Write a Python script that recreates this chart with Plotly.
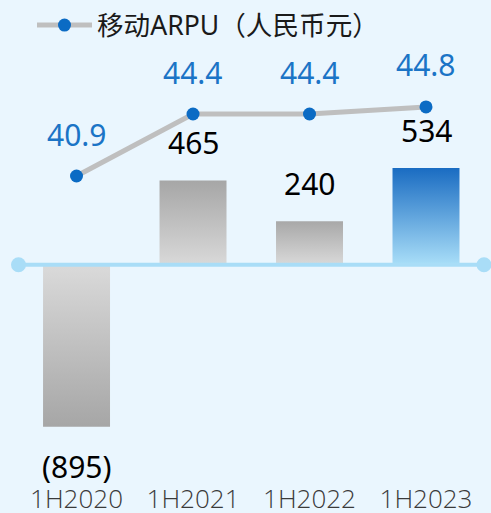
import plotly.graph_objects as go

categories = ["1H2020", "1H2021", "1H2022", "1H2023"]
bar_values = [-895, 465, 240, 534]
arpu_values = [40.9, 44.4, 44.4, 44.8]
legend_name = "移动ARPU（人民币元）"

# gradient colour pairs (bottom -> top) per bar
bar_gradients = [
    ["#A6A6A6", "#DADADA"],
    ["#D9D9D9", "#A6A6A6"],
    ["#D9D9D9", "#A8A8A8"],
    ["#A9DEF8", "#1A6CC2"],
]

W, H = 491, 513
BOTTOM = 32
plot_h = H - BOTTOM
zero_px = 264.7
s = 162.0 / 895
y_range = [-(plot_h - zero_px) / s, zero_px / s]
s2 = 62.0 / 3.5
y2_range = [44.4 - (plot_h - 114) / s2, 44.4 + 114 / s2]
bar_w = 0.575

FONT = "Noto Sans, Noto Sans CJK SC, sans-serif"

fig = go.Figure()

for i, (cat, v) in enumerate(zip(categories, bar_values)):
    xs = [i - bar_w / 2, i + bar_w / 2, i + bar_w / 2, i - bar_w / 2, i - bar_w / 2]
    ys = [0, 0, v, v, 0]
    c_lo, c_hi = bar_gradients[i]
    fig.add_trace(go.Scatter(
        x=xs, y=ys, mode="lines", fill="toself",
        line=dict(width=0, color="rgba(0,0,0,0)"),
        fillgradient=dict(type="vertical", colorscale=[[0, c_lo], [1, c_hi]]),
        showlegend=False, hoverinfo="skip", name=cat,
    ))

fig.add_trace(go.Scatter(
    x=list(range(len(categories))), y=arpu_values, yaxis="y2",
    mode="lines+markers", name=legend_name,
    line=dict(color="#BFBFBF", width=5),
    marker=dict(color="#0B6BC4", size=13),
))

annotations = []
for i, v in enumerate(arpu_values):
    annotations.append(dict(
        x=i, y=v, xref="x", yref="y2", text=f"{v:.1f}", showarrow=False,
        yshift=42, font=dict(family=FONT, size=30, color="#1B74C6"),
    ))
for i, v in enumerate(bar_values):
    txt = f"({abs(v)})" if v < 0 else f"{v}"
    annotations.append(dict(
        x=i, y=v, xref="x", yref="y", text=txt, showarrow=False,
        yshift=38 if v >= 0 else -40, font=dict(family=FONT, size=30, color="#000000"),
    ))

line_col = "#A9DDF7"
shapes = [
    dict(type="line", xref="paper", yref="y", x0=18 / W, x1=484 / W, y0=0, y1=0,
         line=dict(color=line_col, width=4), layer="above"),
]
for px in (18.5, 484):
    shapes.append(dict(type="circle", xref="paper", yref="y", xsizemode="pixel", ysizemode="pixel",
                       xanchor=px / W, yanchor=0, x0=-7.5, x1=7.5, y0=-7.5, y1=7.5,
                       fillcolor=line_col, line=dict(width=0), layer="above"))

fig.update_layout(
    width=W, height=H,
    margin=dict(l=0, r=0, t=0, b=BOTTOM),
    paper_bgcolor="#EAF6FE", plot_bgcolor="#EAF6FE",
    showlegend=True,
    legend=dict(x=32 / W, y=1 - 27 / H, xanchor="left", yanchor="middle", itemwidth=55,
                bgcolor="rgba(0,0,0,0)", font=dict(family=FONT, size=26.6, color="#1A1A1A")),
    xaxis=dict(range=[-0.657, 3.558], tickmode="array", tickvals=list(range(len(categories))),
               ticktext=categories, showgrid=False, zeroline=False, showline=False, ticks="",
               automargin=False,
               tickfont=dict(family="Open Sans, Noto Sans, sans-serif", size=26, weight=300,
                             color="#3A3A3A")),
    yaxis=dict(range=y_range, visible=False, showgrid=False, zeroline=False, automargin=False),
    yaxis2=dict(range=y2_range, overlaying="y", visible=False, showgrid=False, zeroline=False,
                automargin=False),
    annotations=annotations, shapes=shapes,
)

fig.write_html(
    "out.html",
    config={"displayModeBar": False},
    post_script="document.body.style.margin='0';document.body.style.overflow='hidden';",
)
